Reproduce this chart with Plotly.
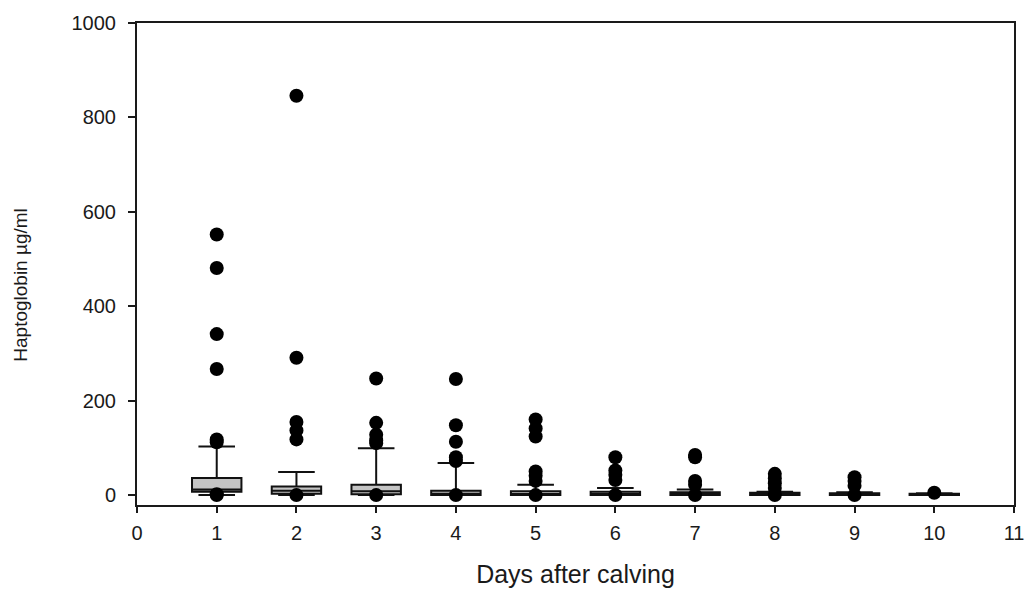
import plotly.graph_objects as go

days = [1, 2, 3, 4, 5, 6, 7, 8, 9, 10]
q1 = [7, 3, 2, 0, 0, 0, 0, 0, 0, 0]
median = [12, 9, 8, 3, 2, 2, 1, 1, 1, 1]
q3 = [36, 18, 22, 9, 8, 7, 6, 5, 4, 3]
lowerfence = [0, 0, 0, 0, 0, 0, 0, 0, 0, 0]
upperfence = [103, 49, 99, 68, 22, 15, 12, 7, 6, 4]

outliers = {
    1: [552, 481, 341, 267, 118, 112, 2, 0],
    2: [846, 291, 155, 137, 118, 0],
    3: [247, 153, 128, 116, 110, 0],
    4: [246, 148, 113, 80, 72, 0],
    5: [160, 141, 124, 50, 41, 30, 0],
    6: [80, 52, 43, 32, 0],
    7: [85, 80, 30, 22, 0],
    8: [45, 35, 25, 15, 0],
    9: [38, 30, 20, 0],
    10: [5],
}

x_ticks = list(range(0, 12))
y_ticks = [0, 200, 400, 600, 800, 1000]
y_title = "Haptoglobin µg/ml"
x_title = "Days after calving"

fig = go.Figure()

ox, oy = [], []
for d, vals in outliers.items():
    for v in vals:
        ox.append(d)
        oy.append(v)
fig.add_trace(go.Scatter(x=ox, y=oy, mode="markers",
                         marker=dict(color="black", size=14, symbol="circle"),
                         showlegend=False, cliponaxis=False))

for i, d in enumerate(days):
    fig.add_trace(go.Box(x=[d], q1=[q1[i]], median=[median[i]], q3=[q3[i]],
                         lowerfence=[lowerfence[i]], upperfence=[upperfence[i]],
                         width=0.62, whiskerwidth=0.74,
                         fillcolor="#c4c4c4",
                         line=dict(color="#111111", width=2),
                         boxpoints=False, showlegend=False))

font = "Liberation Sans, Arial, sans-serif"
fig.update_layout(
    width=1036, height=596,
    margin=dict(l=137, r=17, t=17, b=89),
    plot_bgcolor="white", paper_bgcolor="white",
    font=dict(family=font, color="#1a1a1a", size=16),
    xaxis=dict(range=[0, 11], tickvals=x_ticks, ticktext=[str(t) for t in x_ticks],
               showgrid=False, zeroline=False, showline=True, linecolor="#1a1a1a",
               linewidth=2, mirror=True, ticks="outside", ticklen=6, tickwidth=1.5,
               tickcolor="#1a1a1a", tickfont=dict(size=20), ticklabelstandoff=3,
               title=dict(text=x_title, font=dict(size=25), standoff=22)),
    yaxis=dict(range=[-21, 1000], tickvals=y_ticks, ticktext=[str(t) for t in y_ticks],
               showgrid=False, zeroline=False, showline=True, linecolor="#1a1a1a",
               linewidth=2, mirror=True, ticks="outside", ticklen=7, tickwidth=1.5,
               tickcolor="#1a1a1a", tickfont=dict(size=20), ticklabelstandoff=8),
    annotations=[dict(text=y_title, textangle=-90, xref="paper", yref="paper",
                      x=0, y=0.457, xanchor="center", yanchor="middle",
                      xshift=-116, showarrow=False,
                      font=dict(size=19, family=font, color="#1a1a1a"))],
)

fig.write_html("out.html", config={"displayModeBar": False},
               post_script="document.body.style.margin='0';")
